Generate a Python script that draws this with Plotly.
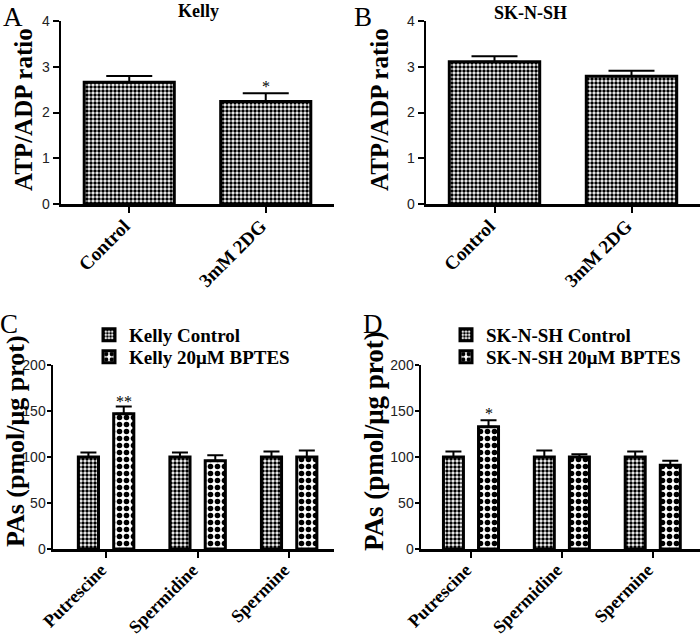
import plotly.graph_objects as go

W, H = 700, 640

# ---------------- data ----------------
atp_categories = ["Control", "3mM 2DG"]
kelly_atp = [2.66, 2.24]
kelly_atp_err = [0.14, 0.18]
sknsh_atp = [3.11, 2.79]
sknsh_atp_err = [0.12, 0.12]
atp_ticks = [0, 1, 2, 3, 4]

pa_categories = ["Putrescine", "Spermidine", "Spermine"]
kelly_ctrl = [100, 100, 100]
kelly_ctrl_err = [5, 5, 6]
kelly_bptes = [147, 96, 100]
kelly_bptes_err = [8, 6, 7]
sknsh_ctrl = [100, 100, 100]
sknsh_ctrl_err = [6, 7, 6]
sknsh_bptes = [133, 100, 91]
sknsh_bptes_err = [7, 3, 5]
pa_ticks = [0, 50, 100, 150, 200]

legend_names_c = ["Kelly Control", "Kelly 20\u03bcM BPTES"]
legend_names_d = ["SK-N-SH Control", "SK-N-SH 20\u03bcM BPTES"]

# ---------------- helpers ----------------
def fx(px):
    return px / W

def fy(py):
    return 1 - py / H

SERIF = "Liberation Serif"
SANS = "Liberation Sans"

fine = dict(shape=".", size=4, solidity=0.6, fgcolor="black", bgcolor="white", fillmode="replace")
coarse = dict(shape=".", size=7, solidity=0.5, fgcolor="black", bgcolor="white", fillmode="replace")
outline = dict(color="black", width=3)


def err(arr, w):
    return dict(type="data", array=arr, symmetric=False, arrayminus=[0] * len(arr),
                color="black", thickness=2, width=w)


fig = go.Figure()

# Panel A
fig.add_trace(go.Bar(x=atp_categories, y=kelly_atp, xaxis="x", yaxis="y", width=0.66,
                     marker=dict(pattern=fine, line=outline, color="white"),
                     error_y=err(kelly_atp_err, 23), showlegend=False))
# Panel B
fig.add_trace(go.Bar(x=atp_categories, y=sknsh_atp, xaxis="x2", yaxis="y2", width=0.66,
                     marker=dict(pattern=fine, line=outline, color="white"),
                     error_y=err(sknsh_atp_err, 23), showlegend=False))
# Panel C
BW = 0.22
OFF_C = -0.303
OFF_T = 0.083
fig.add_trace(go.Bar(x=pa_categories, y=kelly_ctrl, xaxis="x3", yaxis="y3", width=BW, offset=OFF_C,
                     name=legend_names_c[0], legend="legend",
                     marker=dict(pattern=fine, line=outline, color="white"),
                     error_y=err(kelly_ctrl_err, 8)))
fig.add_trace(go.Bar(x=pa_categories, y=kelly_bptes, xaxis="x3", yaxis="y3", width=BW, offset=OFF_T,
                     name=legend_names_c[1], legend="legend2",
                     marker=dict(pattern=coarse, line=outline, color="white"),
                     error_y=err(kelly_bptes_err, 8)))
# Panel D
fig.add_trace(go.Bar(x=pa_categories, y=sknsh_ctrl, xaxis="x4", yaxis="y4", width=BW, offset=OFF_C,
                     name=legend_names_d[0], legend="legend3",
                     marker=dict(pattern=fine, line=outline, color="white"),
                     error_y=err(sknsh_ctrl_err, 8)))
fig.add_trace(go.Bar(x=pa_categories, y=sknsh_bptes, xaxis="x4", yaxis="y4", width=BW, offset=OFF_T,
                     name=legend_names_d[1], legend="legend4",
                     marker=dict(pattern=coarse, line=outline, color="white"),
                     error_y=err(sknsh_bptes_err, 8)))


def yax(dom, anchor, rng, ticks, tlen, standoff):
    return dict(domain=dom, anchor=anchor, range=rng, tickvals=ticks, showline=True,
                linecolor="black", linewidth=2.5, ticks="outside", ticklen=tlen, tickwidth=2,
                tickcolor="black", showgrid=False, zeroline=False, automargin=False,
                ticklabelstandoff=standoff, ticklabeloverflow="allow",
                tickfont=dict(family=SANS, size=14, color="#222"))


def xax(dom, anchor, rng, size):
    return dict(domain=dom, anchor=anchor, range=rng, type="category", showline=True,
                linecolor="black", linewidth=2.5, ticks="outside", ticklen=6, tickwidth=2,
                tickcolor="black", showgrid=False, zeroline=False, tickangle=-45, automargin=False,
                ticklabelstandoff=-5, ticklabelshift=-5,
                tickfont=dict(family=SERIF, size=size, color="black", weight="bold"))


def leg(px, py):
    return dict(x=fx(px), y=fy(py), xanchor="left", yanchor="middle",
                font=dict(family=SERIF, size=19, color="black", weight="bold"),
                bgcolor="rgba(0,0,0,0)", borderwidth=0)


top_dom = [fy(204), fy(21)]
bot_dom = [fy(549), fy(365)]

layout = dict(
    template="none",
    width=W, height=H, margin=dict(l=0, r=0, t=0, b=0, autoexpand=False),
    paper_bgcolor="white", plot_bgcolor="white", barmode="group",
    xaxis=xax([fx(61), fx(334)], "y", [-0.5, 1.5], 19),
    yaxis=yax(top_dom, "x", [0, 4], atp_ticks, 6, 0),
    xaxis2=xax([fx(426), 1.0], "y2", [-0.5, 1.5], 19),
    yaxis2=yax(top_dom, "x2", [0, 4], atp_ticks, 6, 0),
    xaxis3=xax([fx(53), fx(334)], "y3", [-0.58, 2.49], 18),
    yaxis3=yax(bot_dom, "x3", [0, 200], pa_ticks, 4, -2),
    xaxis4=xax([fx(421), 1.0], "y4", [-0.55, 2.52], 18),
    yaxis4=yax(bot_dom, "x4", [0, 200], pa_ticks, 4, -2),
    legend=leg(89, 335),
    legend2=leg(89, 357),
    legend3=leg(446, 335),
    legend4=leg(446, 357),
)
fig.update_layout(**layout)

ann = []
# panel letters
for letter, px, py in [("A", 13, 17), ("B", 363, 17), ("C", 9, 324), ("D", 373, 324)]:
    ann.append(dict(text=letter, x=fx(px), y=fy(py), xref="paper", yref="paper",
                    xanchor="center", yanchor="middle", showarrow=False,
                    font=dict(family=SERIF, size=27, color="black")))
# panel titles
for t, px, py in [("Kelly", 198, 11), ("SK-N-SH", 530, 13)]:
    ann.append(dict(text=t, x=fx(px), y=fy(py), xref="paper", yref="paper",
                    xanchor="center", yanchor="middle", showarrow=False,
                    font=dict(family=SERIF, size=18, color="black", weight="bold")))
# y-axis titles
for t, px, py, s in [("ATP/ADP ratio", 23, 110, 25), ("ATP/ADP ratio", 379, 110, 25),
                     ("PAs (pmol/\u03bcg prot)", 15, 441, 26), ("PAs (pmol/\u03bcg prot)", 374, 441, 27)]:
    ann.append(dict(text=t, x=fx(px), y=fy(py), xref="paper", yref="paper", textangle=-90,
                    xanchor="center", yanchor="middle", showarrow=False,
                    font=dict(family=SERIF, size=s, color="black", weight="bold")))
# significance stars
ann.append(dict(text="*", x=1, y=kelly_atp[1] + kelly_atp_err[1], xref="x", yref="y",
                xanchor="center", yanchor="bottom", showarrow=False, yshift=-4,
                font=dict(family=SERIF, size=16, color="black")))
ann.append(dict(text="**", x=0 + OFF_T + BW / 2, y=kelly_bptes[0] + kelly_bptes_err[0], xref="x3", yref="y3",
                xanchor="center", yanchor="bottom", showarrow=False, yshift=-6,
                font=dict(family=SERIF, size=16, color="black")))
ann.append(dict(text="*", x=0 + OFF_T + BW / 2, y=sknsh_bptes[0] + sknsh_bptes_err[0], xref="x4", yref="y4",
                xanchor="center", yanchor="bottom", showarrow=False, yshift=-4,
                font=dict(family=SERIF, size=16, color="black")))
fig.update_layout(annotations=ann)

fig.write_html("out.html", config={"staticPlot": True, "displayModeBar": False},
               post_script="document.body.style.margin='0';document.body.style.overflow='hidden';")
